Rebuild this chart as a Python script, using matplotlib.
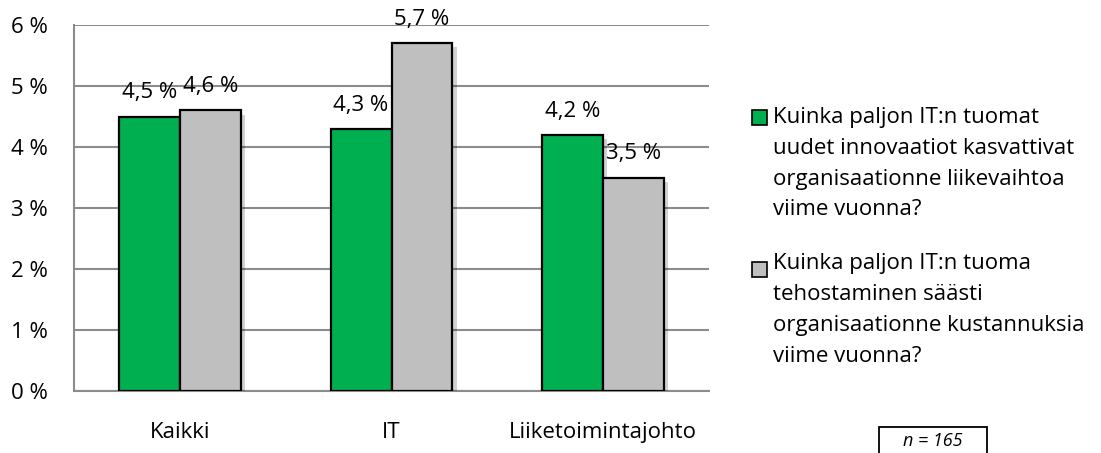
import matplotlib
matplotlib.use("Agg")
import matplotlib.pyplot as plt
from matplotlib.patches import Rectangle
import matplotlib.patheffects as pe
import numpy as np

categories = ["Kaikki", "IT", "Liiketoimintajohto"]
innovations = [4.5, 4.3, 4.2]
savings = [4.6, 5.7, 3.5]
series_labels = [
    ["Kuinka paljon IT:n tuomat", "uudet innovaatiot kasvattivat",
     "organisaationne liikevaihtoa", "viime vuonna?"],
    ["Kuinka paljon IT:n tuoma", "tehostaminen säästi",
     "organisaationne kustannuksia", "viime vuonna?"],
]
yticks = [0, 1, 2, 3, 4, 5, 6]
n_text = "n = 165"

GREEN = "#00B050"
GRAY = "#BFBFBF"
GRID = "#8C8C8C"
FONT = "Open Sans"
FS = 16

W, H = 1101, 453
fig = plt.figure(figsize=(W / 100, H / 100), dpi=100)
ax = fig.add_axes([74 / W, 62 / H, 635 / W, 366 / H])

x = np.arange(len(categories))
bw = 0.288
shadow = [pe.SimplePatchShadow(offset=(3, -3), shadow_rgbFace="#000000", alpha=0.18), pe.Normal()]
b1 = ax.bar(x - bw / 2, innovations, bw, color=GREEN, edgecolor="black", linewidth=1.6, zorder=3)
b2 = ax.bar(x + bw / 2, savings, bw, color=GRAY, edgecolor="black", linewidth=1.6, zorder=3)
for b in list(b1) + list(b2):
    b.set_path_effects(shadow)

for bars, vals in ((b1, innovations), (b2, savings)):
    for b, v in zip(bars, vals):
        ax.annotate(f"{v:.1f} %".replace(".", ","), (b.get_x() + b.get_width() / 2, v),
                    xytext=(0, 13), textcoords="offset points", ha="center", va="baseline",
                    fontsize=FS, family=FONT, zorder=5)

ax.set_xlim(-0.5, 2.5)
ax.set_ylim(0, 6)
ax.set_yticks(yticks)
ax.set_yticklabels([f"{t} %" for t in yticks], fontsize=FS, family=FONT)
ax.set_xticks(x)
ax.set_xticklabels(categories, fontsize=FS, family=FONT)
ax.tick_params(axis="y", length=0, pad=19)
ax.tick_params(axis="x", length=0, pad=22)
ax.yaxis.grid(True, color=GRID, linewidth=1.5, zorder=0)
ax.set_axisbelow(True)
for s in ("top", "right"):
    ax.spines[s].set_visible(False)
for s in ("left", "bottom"):
    ax.spines[s].set_color(GRID)
    ax.spines[s].set_linewidth(1.5)

# legend (manual)
entries = [(GREEN, 110, [117, 148, 180, 210]), (GRAY, 262, [263, 295, 325, 357])]
for (col, sq_top, line_ys), lines in zip(entries, series_labels):
    fig.patches.append(Rectangle((752 / W, 1 - (sq_top + 15) / H), 15 / W, 15 / H,
                                 transform=fig.transFigure, facecolor=col,
                                 edgecolor="black", linewidth=1.2))
    for ly, txt in zip(line_ys, lines):
        fig.text(773 / W, 1 - ly / H, txt, ha="left", va="center",
                 fontsize=FS, family=FONT)

fig.patches.append(Rectangle((879 / W, 1 - 460 / H), 108 / W, 33 / H,
                             transform=fig.transFigure, facecolor="white",
                             edgecolor="black", linewidth=1.3))
fig.text(933 / W, 1 - 441 / H, n_text, ha="center", va="center", fontsize=13,
         family=FONT, style="italic")

fig.savefig("out.png", dpi=100)
